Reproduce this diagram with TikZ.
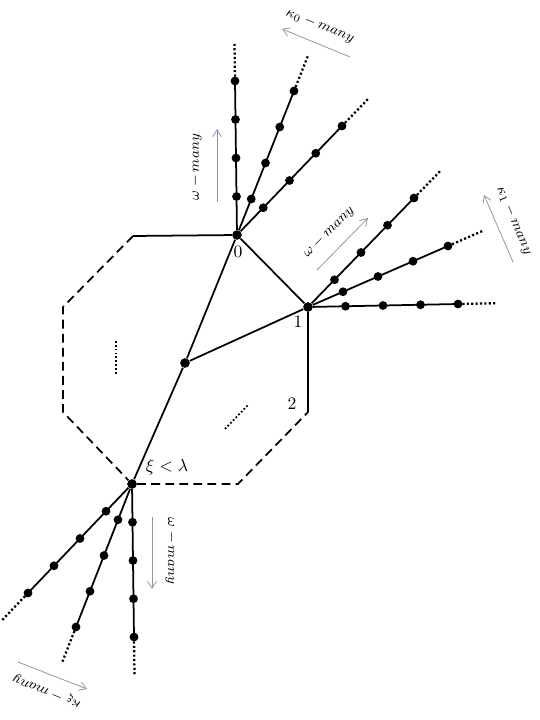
\documentclass[tikz,border=0pt]{standalone}
\usetikzlibrary{calc,arrows.meta}
\definecolor{arrowgray}{RGB}{150,150,150}
\definecolor{arrowblue}{RGB}{140,140,190}
\tikzset{
  vtx/.style={circle, fill=black, inner sep=0pt, minimum size=5.5pt},
  bead/.style={circle, fill=black, inner sep=0pt, minimum size=5pt},
  edge/.style={line width=1pt},
  open edge/.style={line width=1pt, dash pattern=on 5pt off 3pt},
  tail/.style={line width=1.3pt, dash pattern=on 1.2pt off 1.3pt},
  filler/.style={line width=1pt, dash pattern=on 1pt off 1.2pt},
  dirarrow/.style={draw=arrowgray, line width=0.45pt, -{Straight Barb[length=4pt,width=5pt]}},
  countlabel/.style={font=\footnotesize, inner sep=1pt}
}
\begin{document}
\begin{tikzpicture}[x=0.02cm, y=-0.02cm]
  \useasboundingbox (0,0) rectangle (540,720);
  % vertices
  \node[vtx] (n0) at (237,235) {};
  \node[vtx] (n1) at (308,307) {};
  \node[vtx] (m) at (185,363) {};
  \node[vtx] (xi) at (132,484) {};
  % octagon corners
  \coordinate (oA) at (133,236);
  \coordinate (oB) at (63,307);
  \coordinate (oC) at (63,412);
  \coordinate (oD) at (238,484);
  \coordinate (oE) at (308,412);
  \draw[edge] (oA) -- (n0) -- (n1) -- (oE);
  \draw[edge] (n0) -- (m) -- (xi);
  \draw[edge] (m) -- (n1);
  \draw[open edge] (oA) -- (oB) -- (oC) -- (xi) -- (oD) -- (oE);
  % last beads of the rays
  \coordinate (a1) at (235,81);
  \coordinate (a2) at (294,91);
  \coordinate (a3) at (342,126);
  \coordinate (b1) at (414,198);
  \coordinate (b2) at (448,246);
  \coordinate (b3) at (458,304);
  \coordinate (c1) at (134,637);
  \coordinate (c2) at (76,627);
  \coordinate (c3) at (28,593);
  \foreach \c/\e in {n0/a1,n0/a2,n0/a3,n1/b1,n1/b2,n1/b3,xi/c1,xi/c2,xi/c3}{
    \draw[edge] (\c) -- (\e);
    \foreach \t [count=\k] in {0.25,0.5,0.75,1}
      \node[bead] (\e-\k) at ($(\c)!\t!(\e)$) {};
    \draw[tail] (\e) -- ($(\c)!1.25!(\e)$);
  }
  % labels
  \node (l0) at (238,252) {$0$};
  \node (l1) at (298,322) {$1$};
  \node (l2) at (292,404) {$2$};
  \node (lxi) at (167,467) {$\xi<\lambda$};
  \coordinate (d1) at (116,341); \coordinate (d2) at (116,374);
  \coordinate (d3) at (225,429); \coordinate (d4) at (248,405);
  \draw[filler] (d1) -- (d2);
  \draw[filler] (d3) -- (d4);
  % counting arrows
  \node[countlabel, rotate=-22] (k0) at (320,26) {$\kappa_0-many$};
  \coordinate (k0s) at (350,57); \coordinate (k0e) at (282,29);
  \draw[dirarrow] (k0s) -- (k0e);
  \node[countlabel, rotate=90] (w0) at (196,167) {$\omega-many$};
  \coordinate (w0s) at (217,202); \coordinate (w0e) at (217,129);
  \draw[dirarrow, draw=arrowblue] (w0s) -- (w0e);
  \node[countlabel, rotate=45] (w1) at (329,232) {$\omega-many$};
  \coordinate (w1s) at (317,270); \coordinate (w1e) at (368,218);
  \draw[dirarrow] (w1s) -- (w1e);
  \node[countlabel, rotate=-67] (k1) at (514,221) {$\kappa_1-many$};
  \coordinate (k1s) at (513,262); \coordinate (k1e) at (484,195);
  \draw[dirarrow] (k1s) -- (k1e);
  \node[countlabel, rotate=-90] (w2) at (171,551) {$\omega-many$};
  \coordinate (w2s) at (152,517); \coordinate (w2e) at (152,589);
  \draw[dirarrow] (w2s) -- (w2e);
  \node[countlabel, rotate=158] (kx) at (47,691) {$\kappa_\xi-many$};
  \coordinate (kxs) at (18,662); \coordinate (kxe) at (87,689);
  \draw[dirarrow] (kxs) -- (kxe);
\end{tikzpicture}
\end{document}
